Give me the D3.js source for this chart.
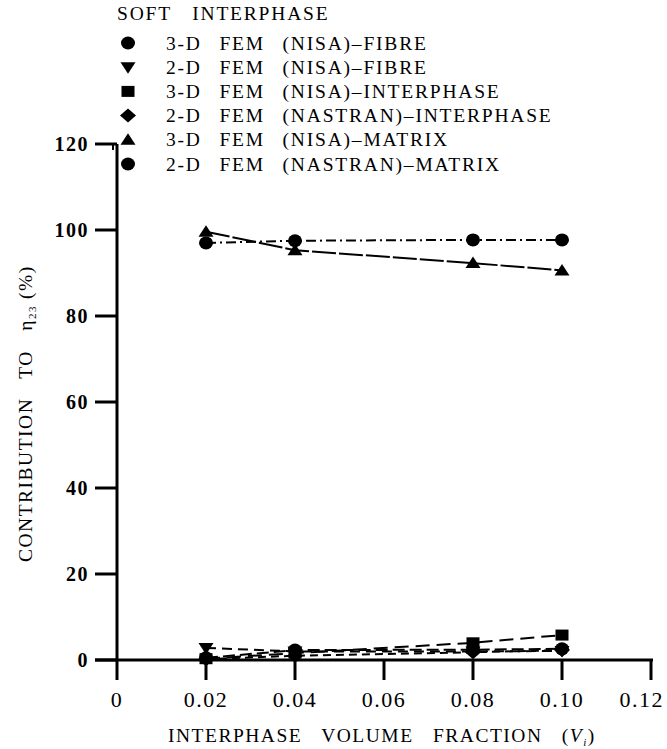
<!DOCTYPE html>
<html>
<head>
<meta charset="utf-8">
<script src="https://cdn.jsdelivr.net/npm/d3@7"></script>
<style>
  html, body { margin: 0; padding: 0; background: #fff; }
  svg { display: block; }
  text { font-family: "Liberation Serif", "DejaVu Serif", serif; fill: #000; }
</style>
</head>
<body>
<svg id="chart" width="667" height="749"></svg>
<script>
// Interphase volume fractions (x positions of the data points)
const fractions = [0.02, 0.04, 0.08, 0.10];

// Contribution to eta_23 (%) for each model / phase
const fibre3D       = [0.5, 2.3, 2.4, 2.6];
const fibre2D       = [2.8, 2.0, 2.0, 2.1];
const interphase3D  = [0.3, 1.6, 4.0, 5.8];
const interphase2D  = [0.2, 1.0, 1.8, 2.3];
const matrix3D      = [99.6, 95.3, 92.3, 90.6];
const matrix2D      = [97.0, 97.5, 97.7, 97.7];

const legendTitle = "SOFT INTERPHASE";
const seriesLabels = [
  "3-D FEM (NISA)–FIBRE",
  "2-D FEM (NISA)–FIBRE",
  "3-D FEM (NISA)–INTERPHASE",
  "2-D FEM (NASTRAN)–INTERPHASE",
  "3-D FEM (NISA)–MATRIX",
  "2-D FEM (NASTRAN)–MATRIX"
];

const xTicks = [0, 0.02, 0.04, 0.06, 0.08, 0.10, 0.12];
const xTickLabels = ["0", "0.02", "0.04", "0.06", "0.08", "0.10", "0.12"];
const yTicks = [0, 20, 40, 60, 80, 100, 120];

const svg = d3.select("#chart");

const x = d3.scaleLinear().domain([0, 0.12]).range([117, 651]);
const y = d3.scaleLinear().domain([0, 120]).range([660, 144]);

// Series definitions: marker shape and line dash pattern
const series = [
  { values: fibre3D,      shape: "circle",   dash: "12,5" },
  { values: fibre2D,      shape: "tridown",  dash: "10,6" },
  { values: interphase3D, shape: "square",   dash: "14,7" },
  { values: interphase2D, shape: "diamond",  dash: "8,5" },
  { values: matrix3D,     shape: "triangle", dash: "24,3" },
  { values: matrix2D,     shape: "circle",   dash: "10,4,2,4" }
];

function drawMarker(g, shape, cx, cy) {
  if (shape === "circle") {
    g.append("ellipse").attr("cx", cx).attr("cy", cy).attr("rx", 7).attr("ry", 6.5).attr("fill", "#000");
  } else if (shape === "square") {
    g.append("rect").attr("x", cx - 6.5).attr("y", cy - 5.5).attr("width", 13).attr("height", 11).attr("fill", "#000");
  } else if (shape === "diamond") {
    g.append("path").attr("d", `M${cx},${cy - 7}L${cx + 8},${cy}L${cx},${cy + 7}L${cx - 8},${cy}Z`).attr("fill", "#000");
  } else if (shape === "triangle") {
    g.append("path").attr("d", `M${cx},${cy - 6.5}L${cx + 7.5},${cy + 5}L${cx - 7.5},${cy + 5}Z`).attr("fill", "#000");
  } else if (shape === "tridown") {
    g.append("path").attr("d", `M${cx - 7.5},${cy - 5}L${cx + 7.5},${cy - 5}L${cx},${cy + 6.5}Z`).attr("fill", "#000");
  }
}

// Axes
const axisG = svg.append("g");
axisG.append("line").attr("x1", x(0)).attr("x2", x(0)).attr("y1", y(120)).attr("y2", y(0) + 20)
  .attr("stroke", "#000").attr("stroke-width", 3);
axisG.append("line").attr("x1", x(0) - 22).attr("x2", x(0.12) + 2).attr("y1", y(0)).attr("y2", y(0))
  .attr("stroke", "#000").attr("stroke-width", 3);

// Y ticks
yTicks.forEach(t => {
  axisG.append("line").attr("x1", x(0) - 22).attr("x2", x(0)).attr("y1", y(t)).attr("y2", y(t))
    .attr("stroke", "#000").attr("stroke-width", 3);
  axisG.append("text").attr("x", x(0) - 28).attr("y", y(t)).attr("dy", "0.35em")
    .attr("text-anchor", "end").attr("font-size", 20).attr("font-weight", "bold")
    .attr("letter-spacing", "1.5px").text(t);
});
// small hook at the top tick
axisG.append("line").attr("x1", x(0) - 4).attr("x2", x(0) - 4).attr("y1", y(120)).attr("y2", y(120) + 6)
  .attr("stroke", "#000").attr("stroke-width", 2);

// X ticks (the last label is pulled in so it stays inside the page)
xTicks.forEach((t, i) => {
  if (t > 0) {
    axisG.append("line").attr("x1", x(t)).attr("x2", x(t)).attr("y1", y(0)).attr("y2", y(0) + 20)
      .attr("stroke", "#000").attr("stroke-width", 3);
  }
  const last = i === xTicks.length - 1;
  axisG.append("text").attr("x", last ? 664 : x(t)).attr("y", 707)
    .attr("text-anchor", last ? "end" : "middle").attr("font-size", 22).attr("letter-spacing", "1.5px")
    .text(xTickLabels[i]);
});

// Axis titles
const xt = svg.append("text").attr("x", 168).attr("y", 742)
  .attr("font-size", 19.5).attr("letter-spacing", "1.5px").attr("word-spacing", "13px");
xt.append("tspan").text("INTERPHASE VOLUME FRACTION (");
xt.append("tspan").attr("font-style", "italic").text("V");
xt.append("tspan").attr("font-style", "italic").attr("font-size", 11).attr("dy", "4").text("i");
xt.append("tspan").attr("dy", "-4").text(")");

const yt = svg.append("text").attr("transform", "translate(32,562) rotate(-90)")
  .attr("font-size", 19.5).attr("letter-spacing", "1.5px").attr("word-spacing", "13px");
yt.append("tspan").text("CONTRIBUTION TO η");
yt.append("tspan").attr("font-size", 11).attr("dy", "4").text("23");
yt.append("tspan").attr("dy", "-4").attr("dx", "6").text("(%)");

// Lines and markers
const line = d3.line().x((d, i) => x(fractions[i])).y(d => y(d));
const plotG = svg.append("g");
series.forEach(s => {
  plotG.append("path").datum(s.values).attr("d", line)
    .attr("fill", "none").attr("stroke", "#000").attr("stroke-width", 2)
    .attr("stroke-dasharray", s.dash);
});
series.forEach(s => {
  s.values.forEach((v, i) => drawMarker(plotG, s.shape, x(fractions[i]), y(v)));
});

// Legend
const lg = svg.append("g");
lg.append("text").attr("x", 117).attr("y", 19.5).attr("font-size", 19.5)
  .attr("letter-spacing", "1.8px").attr("word-spacing", "14px").text(legendTitle);
seriesLabels.forEach((lab, i) => {
  const cy = 43 + i * 24.2;
  drawMarker(lg, series[i].shape, 128, cy);
  lg.append("text").attr("x", 166).attr("y", cy + 6.5).attr("font-size", 19.5)
    .attr("letter-spacing", "1.8px").attr("word-spacing", "11px").text(lab);
});
</script>
</body>
</html>
